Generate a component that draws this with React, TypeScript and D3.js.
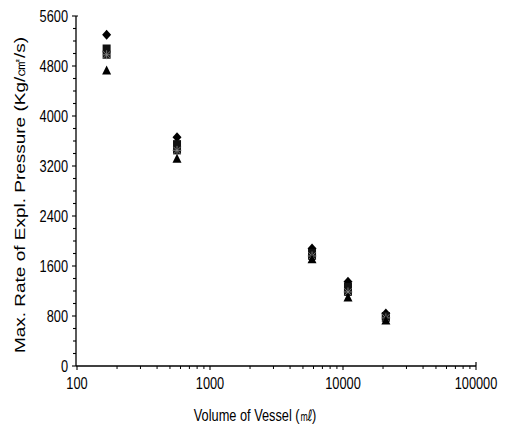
import React from "react";
import * as d3 from "d3";

// vessel volumes (ml) and the four measured series (Kg/cm2/s)
const volumes = [167, 565, 5850, 10900, 21000];
const diamondVals = [5300, 3660, 1880, 1350, 840];
const squareVals = [5080, 3550, 1810, 1265, 800];
const starVals = [4980, 3450, 1760, 1185, 770];
const triangleVals = [4720, 3310, 1700, 1090, 720];

const yLabels = [0, 800, 1600, 2400, 3200, 4000, 4800, 5600];
const xLabels = [100, 1000, 10000, 100000];

const FONT = "'Liberation Sans', Arial, Helvetica, sans-serif";

function marker(kind: string, x: number, y: number, key: string) {
  if (kind === "diamond") {
    return <path key={key} d={`M${x},${y - 5}L${x + 4.5},${y}L${x},${y + 5}L${x - 4.5},${y}Z`} fill="#000" />;
  }
  if (kind === "square") {
    return <rect key={key} x={x - 4} y={y - 4} width={8} height={8} fill="#111" />;
  }
  if (kind === "star") {
    const s = 4.5;
    return (
      <g key={key} stroke="#8a8a8a" strokeWidth={0.8}>
        <rect x={x - 4} y={y - 4} width={8} height={8} fill="#151515" stroke="none" />
        <line x1={x - s} y1={y} x2={x + s} y2={y} />
        <line x1={x} y1={y - s} x2={x} y2={y + s} />
        <line x1={x - s * 0.8} y1={y - s * 0.8} x2={x + s * 0.8} y2={y + s * 0.8} />
        <line x1={x - s * 0.8} y1={y + s * 0.8} x2={x + s * 0.8} y2={y - s * 0.8} />
      </g>
    );
  }
  return <path key={key} d={`M${x},${y - 5.5}L${x + 4.5},${y + 3.5}L${x - 4.5},${y + 3.5}Z`} fill="#000" />;
}

export default function App() {
  const width = 507;
  const height = 431;
  const left = 76;
  const right = 476;
  const top = 16;
  const bottom = 366;

  const x = d3.scaleLog().domain([100, 100000]).range([left + 1, right]);
  const y = d3.scaleLinear().domain([0, 5600]).range([bottom, top]);

  const yTicks = d3.range(0, 5601, 200);
  const xMinor: number[] = [];
  [100, 1000, 10000].forEach((d) => {
    for (let k = 2; k <= 9; k++) xMinor.push(d * k);
  });

  const series = [
    { kind: "diamond", values: diamondVals },
    { kind: "square", values: squareVals },
    { kind: "star", values: starVals },
    { kind: "triangle", values: triangleVals },
  ];

  const sx = 0.8;

  return (
    <div style={{ position: "absolute", left: 0, top: 0 }}>
      <svg width={width} height={height} style={{ display: "block", background: "#fff" }}>
        {/* axes */}
        <line x1={left} y1={top} x2={left} y2={bottom} stroke="#000" strokeWidth={1.3} />
        <line x1={left} y1={bottom} x2={right} y2={bottom} stroke="#000" strokeWidth={1.3} />
        <line x1={right} y1={bottom} x2={right} y2={bottom - 4} stroke="#000" strokeWidth={1.2} />
        <line x1={left} y1={top} x2={left + 2} y2={top} stroke="#000" strokeWidth={1.2} />

        {yTicks.map((t) => (
          <line key={"yt" + t} x1={left - (t % 800 === 0 ? 4 : 3)} y1={y(t)} x2={left} y2={y(t)} stroke="#000" strokeWidth={1.1} />
        ))}
        {yLabels.map((t) => (
          <text
            key={"yl" + t}
            transform={`translate(${left - 8},${y(t)}) scale(${sx},1)`}
            dy="0.35em"
            textAnchor="end"
            fontFamily={FONT}
            fontSize={16}
            fill="#000"
          >
            {t}
          </text>
        ))}

        {xLabels.map((t) => (
          <line key={"xt" + t} x1={x(t)} y1={bottom} x2={x(t)} y2={bottom + 4} stroke="#000" strokeWidth={1.1} />
        ))}
        {xMinor.map((t) => (
          <line key={"xm" + t} x1={x(t)} y1={bottom} x2={x(t)} y2={bottom + 3} stroke="#000" strokeWidth={1} />
        ))}
        {xLabels.map((t) => (
          <text
            key={"xl" + t}
            transform={`translate(${x(t)},${bottom + 23}) scale(${sx},1)`}
            textAnchor="middle"
            fontFamily={FONT}
            fontSize={16}
            fill="#000"
          >
            {t}
          </text>
        ))}

        {/* titles */}
        <text
          transform={`translate(255,421) scale(${sx},1)`}
          textAnchor="middle"
          fontFamily={FONT}
          fontSize={16}
          fill="#000"
        >
          Volume of Vessel (㎖)
        </text>
        <text
          transform={`translate(20,195) scale(${sx},1) rotate(-90)`}
          dy="0.35em"
          textAnchor="middle"
          fontFamily={FONT}
          fontSize={19}
          fill="#000"
        >
          Max. Rate of Expl. Pressure (Kg/㎠/s)
        </text>

        {/* data */}
        {series.map((s) =>
          s.values.map((v, i) => marker(s.kind, x(volumes[i]), y(v), s.kind + i))
        )}
      </svg>
    </div>
  );
}
